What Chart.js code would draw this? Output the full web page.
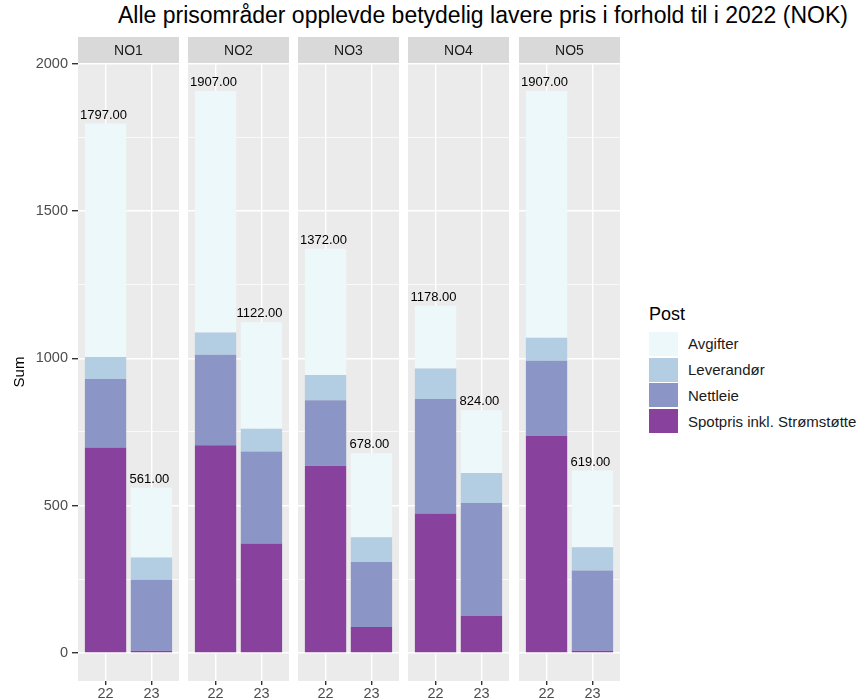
<!DOCTYPE html>
<html>
<head>
<meta charset="utf-8">
<script src="https://cdn.jsdelivr.net/npm/chart.js@4"></script>
<style>
  body { margin: 0; background: #fff; font-family: "Liberation Sans", Arial, sans-serif; }
  #page { position: relative; width: 860px; height: 699px; overflow: hidden; }
  .box { position: absolute; top: 37px; height: 662px; }
  #title { position: absolute; left: 118px; top: 2px; font-size: 23px; color: #000; white-space: nowrap; }
  #legend { position: absolute; left: 649px; top: 303px; }
  #legend .head { font-size: 18px; line-height: 22px; color: #000; margin-bottom: 6px; }
  #legend .item { display: flex; align-items: center; height: 25.8px; }
  #legend .key { width: 29px; height: 24px; margin-right: 10px; }
  #legend .lab { font-size: 15px; color: #1a1a1a; }
</style>
</head>
<body>
<div id="page">
  <div id="title">Alle prisområder opplevde betydelig lavere pris i forhold til i 2022 (NOK)</div>
  <div class="box" style="left:0;width:179px"><canvas id="c0"></canvas></div>
  <div class="box" style="left:188px;width:101px"><canvas id="c1"></canvas></div>
  <div class="box" style="left:298px;width:101px"><canvas id="c2"></canvas></div>
  <div class="box" style="left:408px;width:101px"><canvas id="c3"></canvas></div>
  <div class="box" style="left:519px;width:101px"><canvas id="c4"></canvas></div>
  <div id="legend"></div>
</div>
<script>
// price areas (facets) and years on the x axis
const areas = ["NO1", "NO2", "NO3", "NO4", "NO5"];
const years = ["22", "23"];

// stacked components per area, [2022, 2023]
const spotpris  = [[697, 7], [705, 371], [635, 88], [473, 125], [736, 7]];
const nettleie  = [[233, 241], [307, 313], [223, 221], [389, 384], [256, 273]];
const leverandor = [[74, 76], [76, 77], [85, 84], [103, 102], [78, 79]];
const avgifter  = [[793, 237], [819, 361], [429, 285], [213, 213], [837, 260]];

// totals shown above the bars
const totals = [[1797, 561], [1907, 1122], [1372, 678], [1178, 824], [1907, 619]];

const yTicks = [0, 500, 1000, 1500, 2000];

const series = [
  { name: "Spotpris inkl. Strømstøtte", values: spotpris, color: "#88419D" },
  { name: "Nettleie", values: nettleie, color: "#8C96C6" },
  { name: "Leverandør", values: leverandor, color: "#B3CDE3" },
  { name: "Avgifter", values: avgifter, color: "#EDF8FB" }
];

const maxTotal = Math.max(...totals.flat());
const yMin = -0.05 * maxTotal;
const yMax = 1.05 * maxTotal;
const FONT = "'Liberation Sans', Arial, sans-serif";

// minor grid lines halfway between major ticks
const allY = [];
yTicks.forEach((v, i) => {
  allY.push(v);
  if (i < yTicks.length - 1) allY.push((v + yTicks[i + 1]) / 2);
});

const panelPlugin = {
  id: "panel",
  beforeDraw(chart, args, opts) {
    const { ctx, chartArea: a } = chart;
    ctx.save();
    ctx.fillStyle = "#EBEBEB";
    ctx.fillRect(a.left, a.top, a.right - a.left, a.bottom - a.top);
    ctx.fillStyle = "#D9D9D9";
    ctx.fillRect(a.left, 0, a.right - a.left, a.top);
    ctx.fillStyle = "#1A1A1A";
    ctx.font = "14px " + FONT;
    ctx.textAlign = "center";
    ctx.textBaseline = "middle";
    ctx.fillText(opts.label, (a.left + a.right) / 2, a.top / 2 + 1);
    ctx.restore();
  },
  afterDatasetsDraw(chart, args, opts) {
    const { ctx } = chart;
    const meta = chart.getDatasetMeta(0);
    const y = chart.scales.y;
    ctx.save();
    ctx.fillStyle = "#000";
    ctx.font = "13px " + FONT;
    ctx.textAlign = "center";
    ctx.textBaseline = "bottom";
    opts.totals.forEach((t, i) => {
      const bar = meta.data[i];
      ctx.fillText(t.toFixed(2), bar.x - 2, y.getPixelForValue(t) - 2);
    });
    ctx.restore();
  }
};

areas.forEach((area, k) => {
  const first = k === 0;
  new Chart(document.getElementById("c" + k), {
    type: "bar",
    data: {
      datasets: series.map(s => ({
        label: s.name,
        data: years.map((yr, i) => ({ x: i + 1, y: s.values[k][i] })),
        backgroundColor: s.color,
        borderWidth: 0,
        categoryPercentage: 1,
        barPercentage: 0.9
      }))
    },
    options: {
      responsive: true,
      maintainAspectRatio: false,
      animation: false,
      layout: { padding: { top: 26, left: 0, right: 0, bottom: 0 } },
      plugins: {
        legend: { display: false },
        tooltip: { enabled: false },
        panel: { label: area, totals: totals[k] }
      },
      scales: {
        x: {
          type: "linear",
          stacked: true,
          offset: false,
          min: 0.4,
          max: 2.6,
          afterBuildTicks: sc => { sc.ticks = years.map((yr, i) => ({ value: i + 1 })); },
          afterFit: sc => { sc.height = 18; },
          border: { display: false },
          grid: { color: "#FFFFFF", lineWidth: 1.4, tickColor: "#333333", tickLength: 4, offset: false },
          ticks: {
            padding: 0,
            color: "#4D4D4D",
            font: { family: FONT, size: 14.5 },
            maxRotation: 0,
            callback: v => years[v - 1]
          }
        },
        y: {
          stacked: true,
          min: yMin,
          max: yMax,
          afterBuildTicks: sc => { sc.ticks = allY.map(v => ({ value: v })); },
          afterFit: sc => { sc.width = first ? 78 : 0; },
          border: { display: false },
          title: {
            display: first,
            text: "Sum",
            color: "#000",
            font: { family: FONT, size: 15 },
            padding: { top: 11, bottom: 0 }
          },
          grid: {
            color: "#FFFFFF",
            drawTicks: first,
            tickLength: 6,
            lineWidth: c => yTicks.includes(c.tick.value) ? 1.4 : 0.7,
            tickColor: c => yTicks.includes(c.tick.value) ? "#333333" : "rgba(0,0,0,0)"
          },
          ticks: {
            display: first,
            padding: 4,
            color: "#4D4D4D",
            font: { family: FONT, size: 14.5 },
            callback: v => yTicks.includes(v) ? String(v) : ""
          }
        }
      }
    },
    plugins: [panelPlugin]
  });
});

// legend, top to bottom as in the stack
const legend = document.getElementById("legend");
legend.innerHTML = '<div class="head">Post</div>';
series.slice().reverse().forEach(s => {
  const row = document.createElement("div");
  row.className = "item";
  row.innerHTML = '<div class="key" style="background:' + s.color + '"></div><div class="lab">' + s.name + '</div>';
  legend.appendChild(row);
});
</script>
</body>
</html>
